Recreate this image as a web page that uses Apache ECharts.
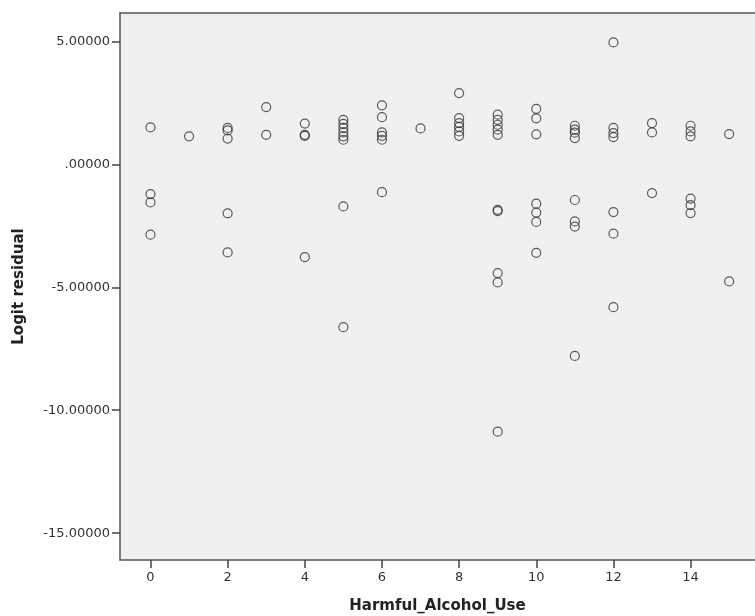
<!DOCTYPE html>
<html>
<head>
<meta charset="utf-8">
<script src="https://cdn.jsdelivr.net/npm/echarts@6/dist/echarts.min.js"></script>
<style>
  html, body { margin: 0; padding: 0; background: #fff; }
  #residualChart { width: 755px; height: 616px; }
</style>
</head>
<body>
<div id="residualChart"></div>
<script>
// values, one entry per case
const harmfulAlcoholUse = [
  0, 0, 0, 0,
  1,
  2, 2, 2, 2, 2,
  3, 3,
  4, 4, 4, 4,
  5, 5, 5, 5, 5, 5, 5, 5,
  6, 6, 6, 6, 6, 6,
  7,
  8, 8, 8, 8, 8, 8,
  9, 9, 9, 9, 9, 9, 9, 9, 9, 9,
  10, 10, 10, 10, 10, 10, 10,
  11, 11, 11, 11, 11, 11, 11, 11,
  12, 12, 12, 12, 12, 12, 12,
  13, 13, 13,
  14, 14, 14, 14, 14, 14,
  15, 15
];
const logitResidual = [
  1.50, -1.21, -1.55, -2.86,
  1.14,
  1.48, 1.38, 1.05, -1.99, -3.58,
  2.33, 1.20,
  1.66, 1.20, 1.16, -3.77,
  1.81, 1.65, 1.48, 1.30, 1.14, 1.00, -1.71, -6.62,
  2.40, 1.92, 1.30, 1.16, 1.00, -1.13,
  1.46,
  2.90, 1.88, 1.68, 1.52, 1.34, 1.16,
  2.02, 1.81, 1.61, 1.41, 1.20, -1.85, -1.90, -4.42, -4.80, -10.87,
  2.26, 1.87, 1.22, -1.60, -1.96, -2.34, -3.60,
  1.57, 1.41, 1.29, 1.07, -1.45, -2.32, -2.53, -7.79,
  4.96, 1.48, 1.27, 1.11, -1.94, -2.82, -5.81,
  1.68, 1.30, -1.17,
  1.57, 1.34, 1.14, -1.39, -1.66, -1.98,
  1.23, -4.76
];
const xTicks = [0, 2, 4, 6, 8, 10, 12, 14];
const yTicks = [5, 0, -5, -10, -15];

document.addEventListener('DOMContentLoaded', function() {
  const chart = echarts.init(document.getElementById('residualChart'));
  const points = harmfulAlcoholUse.map((x, i) => [x, logitResidual[i]]);
  const labelFont = { color: '#333', fontSize: 13, fontFamily: 'DejaVu Sans' };
  const frameLine = { show: true, onZero: false, lineStyle: { color: '#555', width: 1.5 } };
  const option = {
    animation: false,
    backgroundColor: '#fff',
    grid: {
      show: true, left: 120, top: 13, right: 0, bottom: 56,
      outerBoundsMode: 'none',
      backgroundColor: '#f0f0f0', borderWidth: 0
    },
    xAxis: [{
      type: 'value',
      min: -0.79, max: 15.67,
      name: 'Harmful_Alcohol_Use',
      nameLocation: 'middle',
      nameGap: 39,
      nameTextStyle: { color: '#222', fontSize: 15, fontWeight: 'bold', fontFamily: 'DejaVu Sans' },
      axisLine: frameLine,
      axisTick: { show: true, length: 8, customValues: xTicks, lineStyle: { color: '#444', width: 1.5 } },
      axisLabel: Object.assign({ customValues: xTicks, margin: 11 }, labelFont),
      splitLine: { show: false }
    }, {
      // top edge of the frame only
      type: 'value',
      position: 'top',
      min: -0.79, max: 15.67,
      axisLine: frameLine,
      axisTick: { show: false },
      axisLabel: { show: false },
      splitLine: { show: false }
    }],
    yAxis: {
      type: 'value',
      min: -16.09, max: 6.155,
      name: 'Logit residual',
      nameLocation: 'middle',
      nameGap: 93,
      nameTextStyle: { color: '#222', fontSize: 15, fontWeight: 'bold', fontFamily: 'DejaVu Sans' },
      axisLine: frameLine,
      axisTick: { show: true, length: 8, customValues: yTicks, lineStyle: { color: '#444', width: 1.5 } },
      axisLabel: Object.assign({
        customValues: yTicks, margin: 10,
        formatter: v => v === 0 ? '.00000' : v.toFixed(5)
      }, labelFont),
      splitLine: { show: false }
    },
    series: [{
      type: 'scatter',
      symbol: 'circle',
      symbolSize: 9,
      data: points,
      itemStyle: { color: 'rgba(0,0,0,0)', borderColor: '#333', borderWidth: 1.2 }
    }]
  };
  chart.setOption(option);
});
</script>
</body>
</html>
